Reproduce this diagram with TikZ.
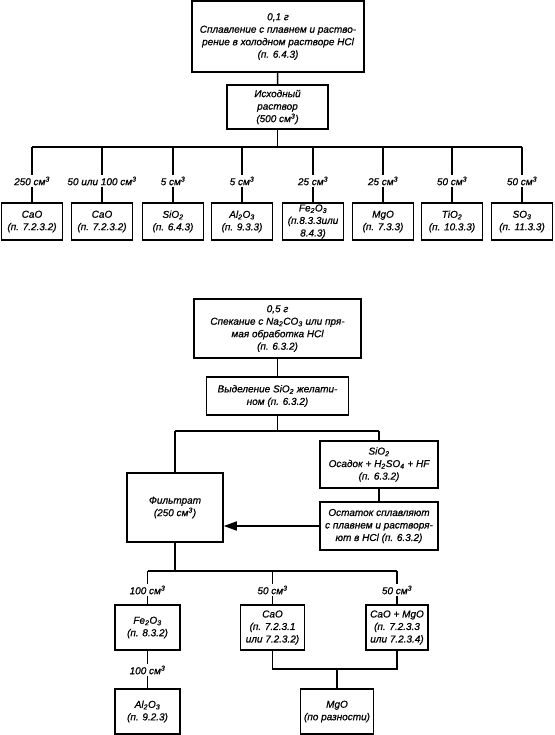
\documentclass[tikz,border=0pt]{standalone}
\usepackage{fontspec}
\setmainfont{Liberation Sans}
\newfontfamily\gostfont{Liberation Sans}[FakeBold=0.8]
\usepackage{xcolor}
\colorlet{colorLine}{black}
\colorlet{colorFill}{white}
\usetikzlibrary{arrows.meta, positioning}
\newcommand{\lo}[1]{\textsubscript{#1}}
\newcommand{\cmc}{см\textsuperscript{3}}
\tikzset{box/.style={draw=colorLine, line width=1.5pt, align=center, inner sep=0pt, font=\gostfont\fontsize{10}{12.5}\selectfont\itshape},
sz/.style 2 args={minimum width=#1pt, minimum height=#2pt},
vol/.style={fill=colorFill, inner sep=1.5pt, font=\gostfont\fontsize{10}{12.5}\selectfont\itshape}}

\begin{document}
\begin{tikzpicture}[x=1pt, y=-1pt, line width=1.5pt, draw=colorLine]
\useasboundingbox (0,0) rectangle (554,735);
\node[box, sz={172}{71}] (t0) at (278,36.5) {0,1 г\\Сплавление с плавнем и раство-\\рение в холодном растворе HCl\\(п. 6.4.3)};
\node[box, sz={101}{44}] (src) at (277.5,107) {Исходный\\раствор\\(500 \cmc)};
\coordinate (h0) at (277.5,147);
\draw (t0) -- (src);
\draw (src) -- (h0);
\foreach \x/\v/\t [count=\i] in {32/{250 \cmc}/{CaO\\(п. 7.2.3.2)}, 102/{50 или 100 \cmc}/{CaO\\(п. 7.2.3.2)}, 173/{5 \cmc}/{SiO\lo{2}\\(п. 6.4.3)}, 242/{5 \cmc}/{Al\lo{2}O\lo{3}\\(п. 9.3.3)}, 313/{25 \cmc}/{Fe\lo{2}O\lo{3}\\(п.8.3.3или\\8.4.3)}, 383/{25 \cmc}/{MgO\\(п. 7.3.3)}, 452/{50 \cmc}/{TiO\lo{2}\\(п. 10.3.3)}, 522/{50 \cmc}/{SO\lo{3}\\(п. 11.3.3)}}
{
\node[box, sz={61}{37}] (a\i) at (\x,221.5) {\t};
\coordinate (h\i) at (\x,147);
\draw (h\i) -- (a\i);
\node[vol] (v\i) at (\x,181) {\v};
}
\draw (h1) -- (h8);

\node[box, sz={167}{59}] (s0) at (277.5,328.5) {0,5 г\\Спекание с Na\lo{2}CO\lo{3} или пря-\\мая обработка HCl\\(п. 6.3.2)};
\node[box, sz={142}{38}] (sep) at (277.5,396) {Выделение SiO\lo{2} желати-\\ном (п. 6.3.2)};
\node[box, sz={118}{47}] (sio) at (379,464.5) {SiO\lo{2}\\Осадок + H\lo{2}SO\lo{4} + HF\\(п. 6.3.2)};
\node[box, sz={118}{48}] (res) at (379,526) {Остаток сплавляют\\с плавнем и растворя-\\ют в HCl (п. 6.3.2)};
\node[box, sz={96}{69}] (filt) at (175,507.5) {Фильтрат\\(250 \cmc)};
\coordinate (k0) at (277.5,431);
\coordinate (k1) at (175,431);
\coordinate (k2) at (379,431);
\draw (s0) -- (sep);
\draw (sep) -- (k0);
\draw (k1) -- (k2);
\draw (k1) -- (filt);
\draw (k2) -- (sio);
\draw (sio) -- (res);
\draw [-{Triangle[length=13pt, width=9pt]}] (res.west) -- (res.west -| filt.east);

\node[box, sz={65}{45}] (fe) at (147.5,627.5) {Fe\lo{2}O\lo{3}\\(п. 8.3.2)};
\node[box, sz={64}{45}] (cao) at (272.5,627.5) {CaO\\(п. 7.2.3.1\\или 7.2.3.2)};
\node[box, sz={62}{45}] (camg) at (397,627.5) {CaO + MgO\\(п. 7.2.3.3\\или 7.2.3.4)};
\node[box, sz={65}{45}] (al) at (147.5,711.5) {Al\lo{2}O\lo{3}\\(п. 9.2.3)};
\node[box, sz={73}{45}] (mgo) at (337,711.5) {MgO\\(по разности)};
\coordinate (m0) at (175,571);
\coordinate (m1) at (147.5,571);
\coordinate (m2) at (272.5,571);
\coordinate (m3) at (397,571);
\coordinate (j0) at (337,669);
\draw (filt) -- (m0);
\draw (m1) -- (m3);
\draw (m1) -- (fe);
\draw (m2) -- (cao);
\draw (m3) -- (camg);
\draw (fe) -- (al);
\draw (cao.south) |- (j0) -| (camg.south);
\draw (j0) -- (mgo);
\node[vol] (w1) at (147.5,590) {100 \cmc};
\node[vol] (w2) at (272.5,590) {50 \cmc};
\node[vol] (w3) at (397,590) {50 \cmc};
\node[vol] (w4) at (147.5,670) {100 \cmc};
\end{tikzpicture}
\end{document}
